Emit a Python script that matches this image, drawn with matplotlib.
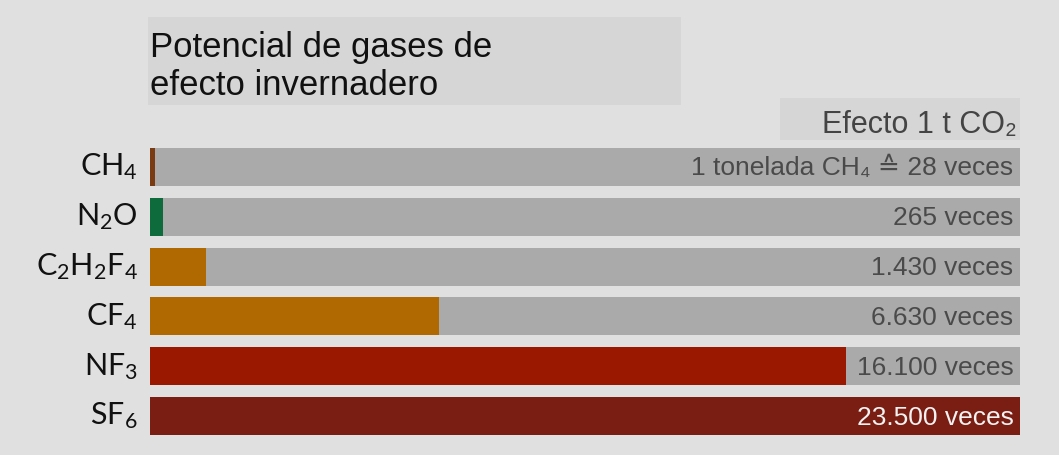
import matplotlib
matplotlib.use("Agg")
import matplotlib.pyplot as plt
from matplotlib.patches import Rectangle

# data
gases = ["CH_4", "N_2O", "C_2H_2F_4", "CF_4", "NF_3", "SF_6"]
gwp = [28, 265, 1430, 6630, 16100, 23500]
# length of the coloured bar as drawn (same x units, full bar = 23500)
bar_len = [130, 360, 1520, 7800, 18800, 23550]
value_labels = ["1 tonelada CH₄ ≙ 28 veces", "265 veces", "1.430 veces",
                "6.630 veces", "16.100 veces", "23.500 veces"]
colors = ["#7a3a12", "#0d6b3c", "#b06800", "#b06800", "#9a1800", "#7a1d12"]
full = 23500

plt.rcParams["mathtext.fontset"] = "custom"
plt.rcParams["mathtext.rm"] = "Lato"
plt.rcParams["mathtext.it"] = "Lato"

W, H = 1059, 455
bg = "#e0e0e0"
fig = plt.figure(figsize=(W / 100, H / 100), dpi=100, facecolor=bg)

sans = ["Liberation Sans", "DejaVu Sans"]

# title box
fig.add_artist(Rectangle((148 / W, 1 - 105 / H), 533 / W, 88 / H,
                         transform=fig.transFigure, color="#d6d6d6", lw=0))
fig.text(150 / W, 1 - 57 / H, "Potencial de gases de", family=sans,
         fontsize=25, color="#111111", va="baseline")
fig.text(150 / W, 1 - 95 / H, "efecto invernadero", family=sans,
         fontsize=25, color="#111111", va="baseline")

# "Efecto 1 t CO2" box
fig.add_artist(Rectangle((780 / W, 1 - 140 / H), 240 / W, 42 / H,
                         transform=fig.transFigure, color="#d6d6d6", lw=0))
fig.text(1017 / W, 1 - 133 / H, "Efecto 1 t CO₂", family=sans,
         fontsize=22, color="#444444", ha="right", va="baseline")

ax = fig.add_axes([150 / W, 1 - 441 / H, 870 / W, 299 / H])
ax.set_facecolor(bg)
ys = list(range(len(gases)))
ax.barh(ys, [full] * len(gases), height=0.76, color="#aaaaaa", lw=0)
ax.barh(ys, bar_len, height=0.76, color=colors, lw=0)
ax.set_xlim(0, full)
ax.set_ylim(5.5, -0.5)
ax.axis("off")

for y, g in zip(ys, gases):
    ax.text(-0.014 * full, y, "$\\mathrm{" + g + "}$", fontsize=22,
            ha="right", va="center", color="#111111")

for i, (y, lab) in enumerate(zip(ys, value_labels)):
    c = "#f2f2f2" if i == len(ys) - 1 else "#4a4a4a"
    ax.text(full * 0.9925, y + 0.03, lab, family=sans, fontsize=19,
            ha="right", va="center", color=c)

fig.savefig("out.png", dpi=100, facecolor=bg)
